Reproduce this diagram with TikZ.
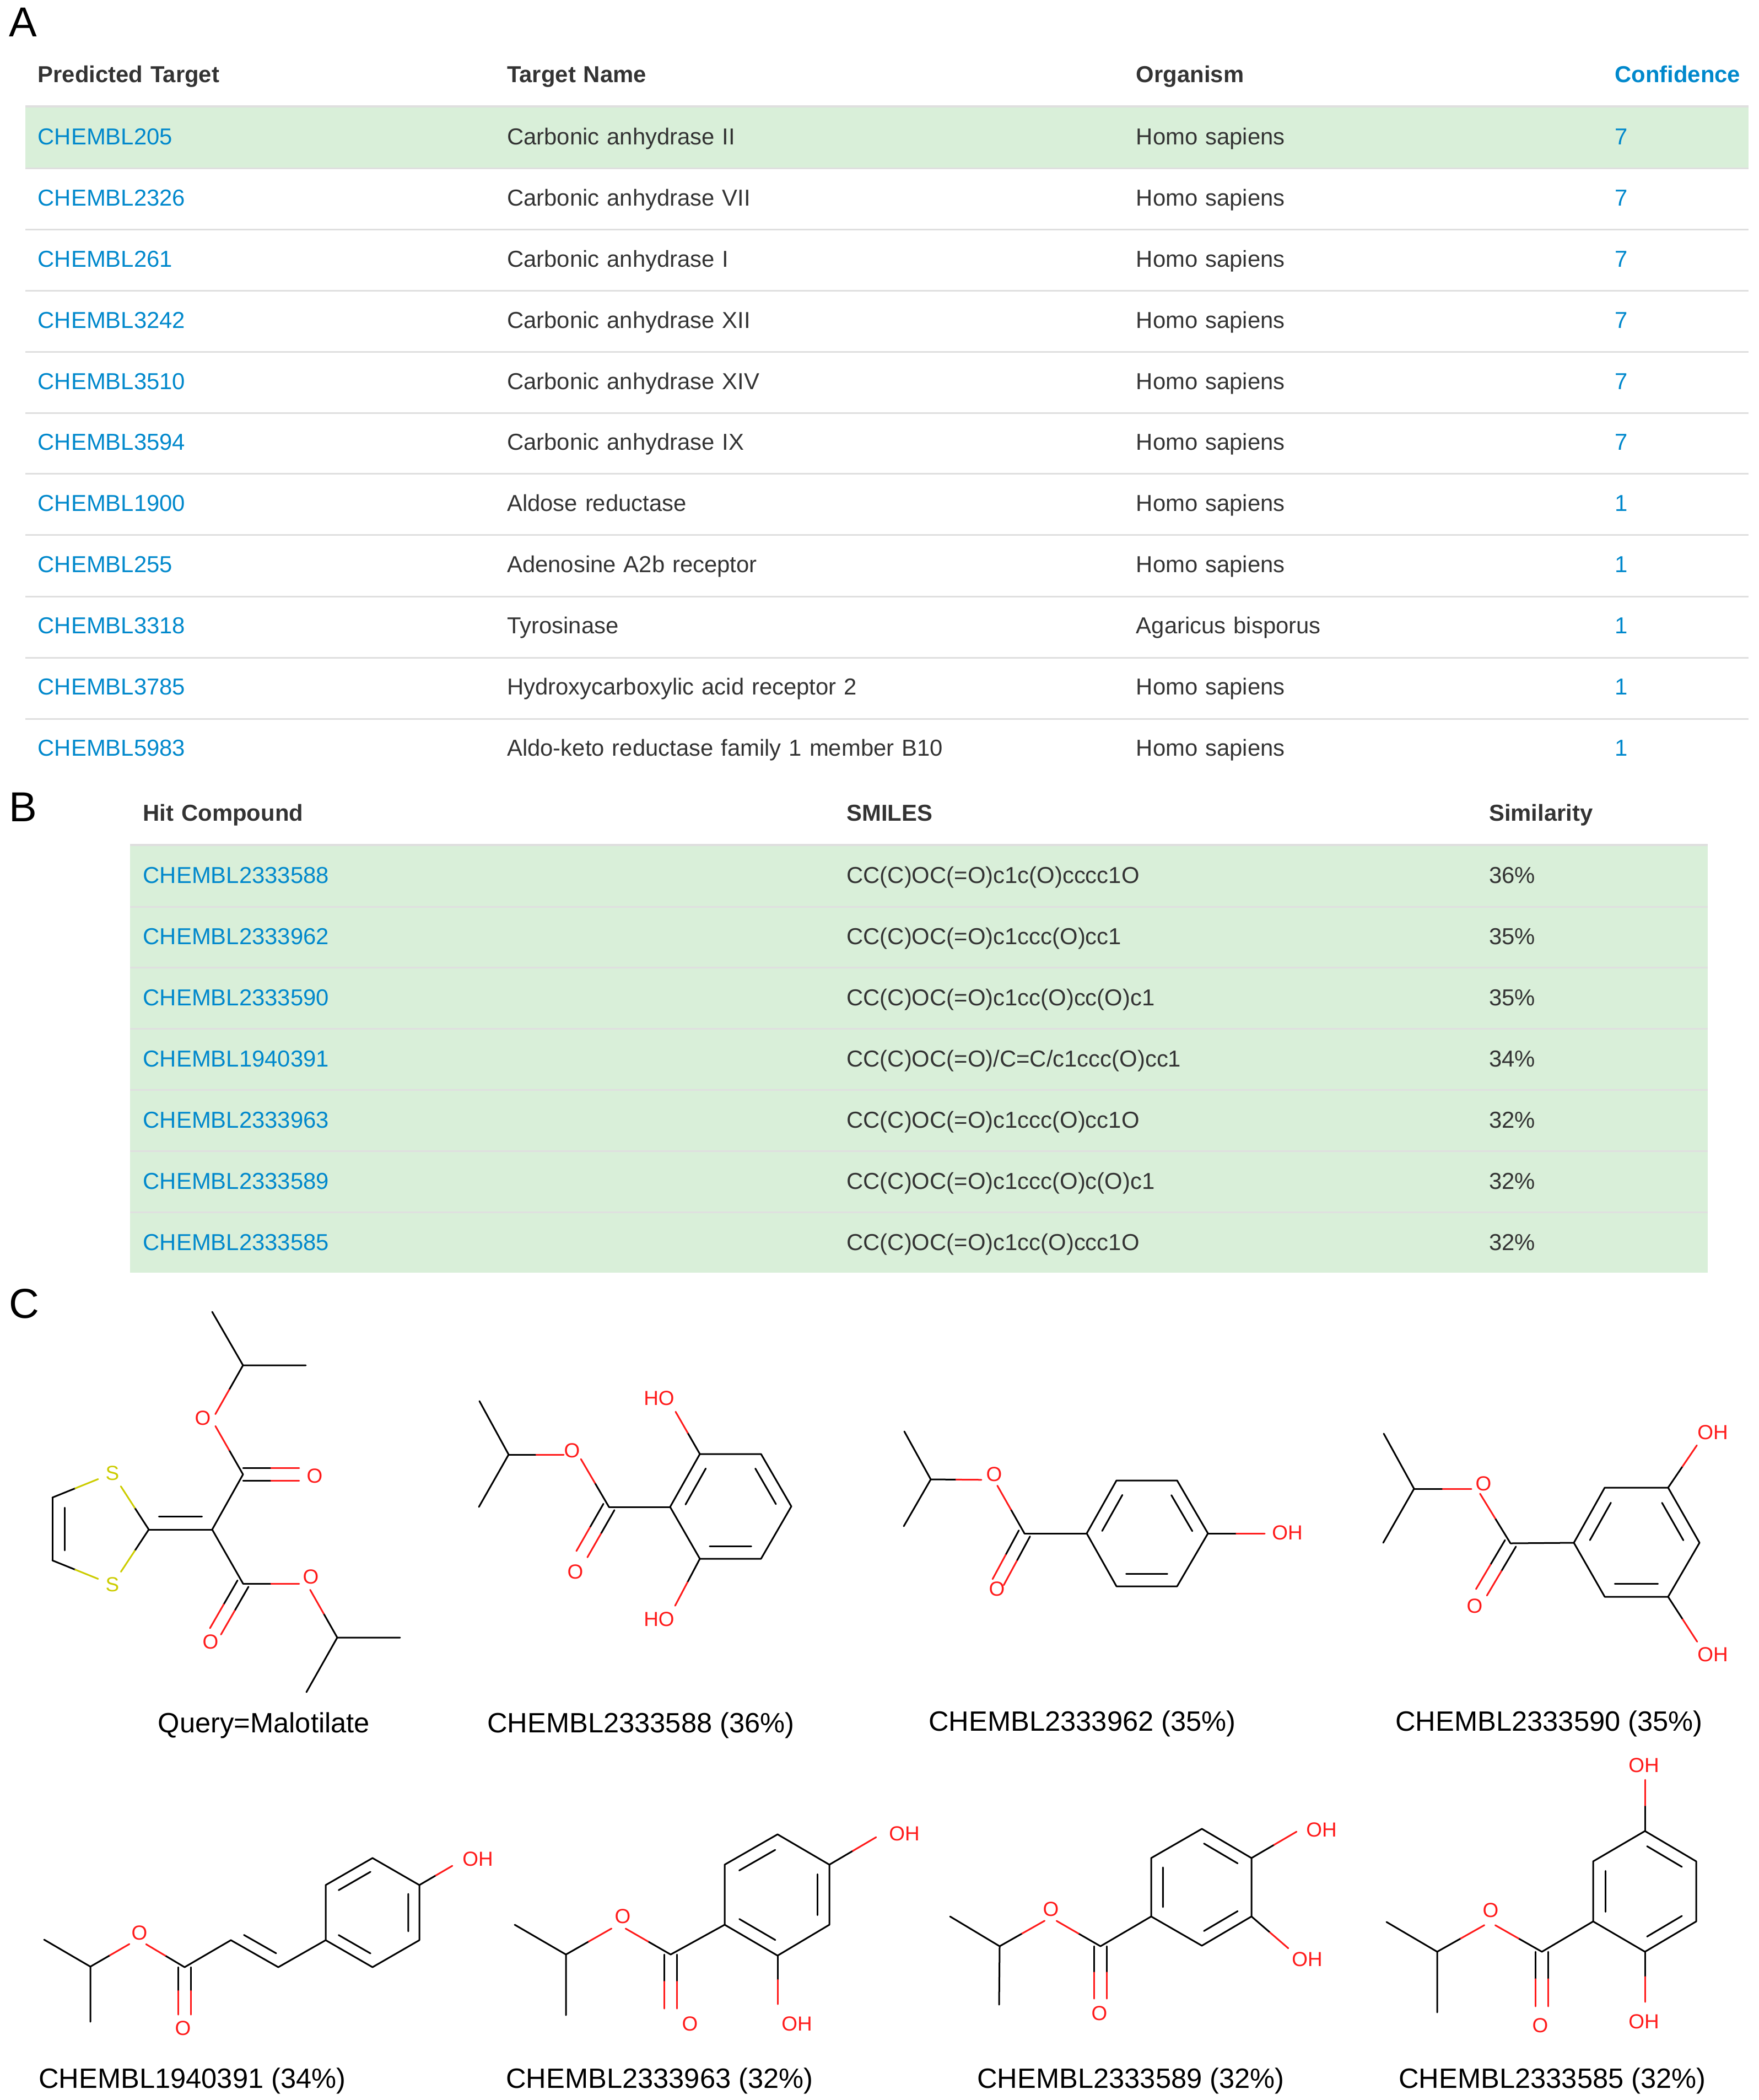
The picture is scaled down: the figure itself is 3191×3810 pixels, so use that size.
\documentclass[tikz,border=0pt]{standalone}
\usepackage{fontspec}
\setmainfont{Liberation Sans}
\usetikzlibrary{matrix,calc}

\definecolor{linkblue}{HTML}{0088CC}
\definecolor{ink}{HTML}{333333}
\definecolor{rowgreen}{HTML}{D9EFD9}
\definecolor{rulegray}{HTML}{DFDFDF}
\definecolor{atomred}{HTML}{FF1A1A}
\definecolor{atomyellow}{HTML}{CCCC00}

\newcommand{\tablefont}{\fontsize{11.9pt}{14pt}\selectfont}
\newcommand{\atomfont}{\fontsize{10.5pt}{12pt}\selectfont}
\newcommand{\captionfont}{\fontsize{14.4pt}{17pt}\selectfont}

\tikzset{
  tablegrid/.style={matrix of nodes, anchor=north west, inner sep=0pt, row sep=0pt, column sep=0pt,
    nodes={inner sep=0pt, minimum height=1.109cm, text height=.31cm, text depth=0pt, align=left,
      text=ink, font=\tablefont},
    row 1/.style={nodes={font=\tablefont\bfseries}}},
  headrule/.style={draw=rulegray, line width=.045cm},
  rowrule/.style={draw=rulegray, line width=.03cm},
  bondline/.style={draw=black, line width=.03cm, line cap=round, line join=round},
  atom/.style={text=atomred, font=\atomfont, inner sep=0pt},
  panel/.style={anchor=west, font=\fontsize{21.6pt}{24pt}\selectfont, inner sep=0pt},
  caption/.style={anchor=base, font=\captionfont, inner sep=0pt}
}

% bond to a hetero atom, half black and half in the atom's colour
\newcommand{\hetbond}[3][atomred]{%
  \coordinate (tip) at ($(#3)!.28cm!(#2)$);
  \coordinate (mid) at ($(#2)!.5!(tip)$);
  \draw[bondline] (#2) -- (mid);
  \draw[bondline,draw=#1] (mid) -- (tip);
}
% carbonyl double bond
\newcommand{\hetdouble}[2]{%
  \coordinate (tip) at ($(#2)!.28cm!(#1)$);
  \coordinate (mid) at ($(#1)!.5!(tip)$);
  \draw[bondline] ($(#1)!.115cm!90:(tip)$) -- ($(mid)!.115cm!90:(tip)$);
  \draw[bondline,draw=atomred] ($(mid)!.115cm!90:(tip)$) -- ($(tip)!.115cm!-90:(#1)$);
  \draw[bondline] ($(#1)!.115cm!-90:(tip)$) -- ($(mid)!.115cm!-90:(tip)$);
  \draw[bondline,draw=atomred] ($(mid)!.115cm!-90:(tip)$) -- ($(tip)!.115cm!90:(#1)$);
}
% inner stroke of a double bond, on the left of the way from #1 to #2
\newcommand{\ringinner}[2]{%
  \draw[bondline] ($(#1)!.16!(#2)!.24!90:(#2)$) -- ($(#2)!.16!(#1)!.24!-90:(#1)$);
}

\begin{document}
\begin{tikzpicture}[x=.01cm, y=-.01cm]
  \useasboundingbox (0,0) rectangle (3191,3810);

  % panel A
  \node[panel] (labA) at (16,40) {A};
  \fill[rowgreen] (46,195) rectangle (3173,305);
  \draw[headrule] (46,193) -- (3173,193);
  \foreach \y in {306,417,528,639,750,860,971,1082,1193,1304}
    \draw[rowrule] (46,\y) -- (3173,\y);
  \matrix (targets) [tablegrid, at={(68,77.5)},
    column 1/.style={nodes={text width=8.51cm, text=linkblue}},
    column 2/.style={nodes={text width=11.41cm}},
    column 3/.style={nodes={text width=8.68cm}},
    column 4/.style={nodes={text width=2.4cm, text=linkblue}},
    row 1 column 1/.style={nodes={text=ink}}]
  {
Predicted Target & Target Name & Organism & Confidence \\[.02cm]
CHEMBL205 & Carbonic anhydrase II & Homo sapiens & 7 \\
CHEMBL2326 & Carbonic anhydrase VII & Homo sapiens & 7 \\
CHEMBL261 & Carbonic anhydrase I & Homo sapiens & 7 \\
CHEMBL3242 & Carbonic anhydrase XII & Homo sapiens & 7 \\
CHEMBL3510 & Carbonic anhydrase XIV & Homo sapiens & 7 \\
CHEMBL3594 & Carbonic anhydrase IX & Homo sapiens & 7 \\
CHEMBL1900 & Aldose reductase & Homo sapiens & 1 \\
CHEMBL255 & Adenosine A2b receptor & Homo sapiens & 1 \\
CHEMBL3318 & Tyrosinase & Agaricus bisporus & 1 \\
CHEMBL3785 & Hydroxycarboxylic acid receptor 2 & Homo sapiens & 1 \\
CHEMBL5983 & Aldo-keto reductase family 1 member B10 & Homo sapiens & 1 \\
};

  % panel B
  \node[panel] (labB) at (16,1464) {B};
  \fill[rowgreen] (236,1535) rectangle (3099,2309);
  \draw[headrule] (236,1533) -- (3099,1533);
  \foreach \y in {1645,1755,1866,1977,2088,2199}
    \draw[rowrule] (236,\y) -- (3099,\y);
  \matrix (hits) [tablegrid, at={(259,1417.6)},
    column 1/.style={nodes={text width=12.76cm, text=linkblue}},
    column 2/.style={nodes={text width=11.65cm}},
    column 3/.style={nodes={text width=2.4cm}},
    row 1 column 1/.style={nodes={text=ink}}]
  {
Hit Compound & SMILES & Similarity \\[.02cm]
CHEMBL2333588 & CC(C)OC(=O)c1c(O)cccc1O & 36\% \\
CHEMBL2333962 & CC(C)OC(=O)c1ccc(O)cc1 & 35\% \\
CHEMBL2333590 & CC(C)OC(=O)c1cc(O)cc(O)c1 & 35\% \\
CHEMBL1940391 & CC(C)OC(=O)/C=C/c1ccc(O)cc1 & 34\% \\
CHEMBL2333963 & CC(C)OC(=O)c1ccc(O)cc1O & 32\% \\
CHEMBL2333589 & CC(C)OC(=O)c1ccc(O)c(O)c1 & 32\% \\
CHEMBL2333585 & CC(C)OC(=O)c1cc(O)ccc1O & 32\% \\
};

  % panel C
  \node[panel] (labC) at (16,2365) {C};

  % query
  \coordinate (q1) at (385,2380); \coordinate (q2) at (441,2477); \coordinate (q3) at (555,2477);
  \coordinate (q4) at (441,2675); \coordinate (q5) at (385,2775); \coordinate (q6) at (270,2775);
  \coordinate (q7) at (95,2717); \coordinate (q8) at (95,2831); \coordinate (q9) at (441,2873);
  \coordinate (q10) at (612,2971); \coordinate (q11) at (726,2971); \coordinate (q12) at (556,3070);
  \coordinate (qA1) at (377,2590); \coordinate (qA2) at (377,2563); \coordinate (qA3) at (571,2675);
  \coordinate (qA4) at (377,2984); \coordinate (qA5) at (571,2873); \coordinate (qA6) at (549,2860);
  \node[atom] (qO1) at (368,2573) {O};
  \node[atom] (qO2) at (571,2678) {O};
  \node[atom] (qO3) at (382,2979) {O};
  \node[atom] (qO4) at (564,2861) {O};
  \node[atom, text=atomyellow] (qS1) at (204,2673) {S};
  \node[atom, text=atomyellow] (qS2) at (204,2875) {S};
  \draw[bondline] (q1) -- (q2) -- (q3);
  \hetbond{q2}{qA1} \hetbond{q4}{qA2}
  \hetdouble{q4}{qA3}
  \draw[bondline] (q4) -- (q5) -- (q9);
  \draw[bondline] (q5) -- (q6);
  \ringinner{q6}{q5}
  \hetbond[atomyellow]{q6}{qS1} \hetbond[atomyellow]{q6}{qS2}
  \hetbond[atomyellow]{q7}{qS1} \hetbond[atomyellow]{q8}{qS2}
  \draw[bondline] (q7) -- (q8);
  \ringinner{q7}{q8}
  \hetdouble{q9}{qA4}
  \hetbond{q9}{qA5} \hetbond{q10}{qA6}
  \draw[bondline] (q12) -- (q10) -- (q11);
  \node[caption] (capq) at (479,3143) {Query=Malotilate};

  % CHEMBL2333588
  \coordinate (a1) at (870,2542); \coordinate (a2) at (923,2639); \coordinate (a3) at (869,2734);
  \coordinate (a4) at (1105,2734);
  \coordinate (ar1) at (1216,2734); \coordinate (ar2) at (1270,2638); \coordinate (ar3) at (1381,2638);
  \coordinate (ar4) at (1436,2733); \coordinate (ar5) at (1381,2828); \coordinate (ar6) at (1270,2828);
  \coordinate (aOt) at (1212,2537); \coordinate (aOb) at (1212,2938);
  \coordinate (aA1) at (1051,2639); \coordinate (aA2) at (1040,2623); \coordinate (aA3) at (1042,2844);
  \node[atom] (aO1) at (1038,2632) {O};
  \node[atom] (aO2) at (1044,2852) {O};
  \node[atom] (aH1) at (1196,2537) {HO};
  \node[atom] (aH2) at (1196,2938) {HO};
  \draw[bondline] (a1) -- (a2) -- (a3);
  \hetbond{a2}{aA1} \hetbond{a4}{aA2}
  \hetdouble{a4}{aA3}
  \draw[bondline] (a4) -- (ar1);
  \draw[bondline] (ar1) -- (ar2) -- (ar3) -- (ar4) -- (ar5) -- (ar6) -- cycle;
  \ringinner{ar2}{ar1} \ringinner{ar6}{ar5} \ringinner{ar4}{ar3}
  \hetbond{ar2}{aOt} \hetbond{ar6}{aOb}
  \node[caption] (capa) at (1163,3143) {CHEMBL2333588 (36\%)};

  % CHEMBL2333962
  \coordinate (b1) at (1641,2597); \coordinate (b2) at (1689,2684); \coordinate (b3) at (1640,2769);
  \coordinate (b4) at (1859,2782);
  \coordinate (br1) at (1972,2782); \coordinate (br2) at (2026,2686); \coordinate (br3) at (2136,2686);
  \coordinate (br4) at (2192,2782); \coordinate (br5) at (2136,2878); \coordinate (br6) at (2026,2878);
  \coordinate (bO3) at (2323,2782);
  \coordinate (bA1) at (1809,2685); \coordinate (bA2) at (1796,2671); \coordinate (bA3) at (1798,2895);
  \node[atom] (bO1) at (1804,2675) {O};
  \node[atom] (bO2) at (1809,2883) {O};
  \node[atom] (bH1) at (2336,2781) {OH};
  \draw[bondline] (b1) -- (b2) -- (b3);
  \hetbond{b2}{bA1} \hetbond{b4}{bA2}
  \hetdouble{b4}{bA3}
  \draw[bondline] (b4) -- (br1);
  \draw[bondline] (br1) -- (br2) -- (br3) -- (br4) -- (br5) -- (br6) -- cycle;
  \ringinner{br2}{br1} \ringinner{br6}{br5} \ringinner{br4}{br3}
  \hetbond{br4}{bO3}
  \node[caption] (capb) at (1964,3140) {CHEMBL2333962 (35\%)};

  % CHEMBL2333590
  \coordinate (c1) at (2511,2601); \coordinate (c2) at (2566,2701); \coordinate (c3) at (2510,2799);
  \coordinate (c4) at (2741,2800);
  \coordinate (cr1) at (2856,2799); \coordinate (cr2) at (2912,2699); \coordinate (cr3) at (3027,2699);
  \coordinate (cr4) at (3084,2799); \coordinate (cr5) at (3027,2897); \coordinate (cr6) at (2912,2897);
  \coordinate (cOt) at (3095,2599); \coordinate (cOb) at (3095,3002);
  \coordinate (cA1) at (2698,2701); \coordinate (cA2) at (2671,2686); \coordinate (cA3) at (2674,2913);
  \node[atom] (cO1) at (2692,2692) {O};
  \node[atom] (cO2) at (2676,2914) {O};
  \node[atom] (cH1) at (3108,2599) {OH};
  \node[atom] (cH2) at (3108,3002) {OH};
  \draw[bondline] (c1) -- (c2) -- (c3);
  \hetbond{c2}{cA1} \hetbond{c4}{cA2}
  \hetdouble{c4}{cA3}
  \draw[bondline] (c4) -- (cr1);
  \draw[bondline] (cr1) -- (cr2) -- (cr3) -- (cr4) -- (cr5) -- (cr6) -- cycle;
  \ringinner{cr2}{cr1} \ringinner{cr6}{cr5} \ringinner{cr4}{cr3}
  \hetbond{cr3}{cOt} \hetbond{cr5}{cOb}
  \node[caption] (capc) at (2811,3140) {CHEMBL2333590 (35\%)};

  % CHEMBL1940391
  \coordinate (d1) at (80,3519); \coordinate (d2) at (164,3568); \coordinate (d3) at (164,3668);
  \coordinate (d4) at (335,3569); \coordinate (d5) at (419,3520); \coordinate (d6) at (505,3569);
  \coordinate (dr1) at (591,3520); \coordinate (dr2) at (591,3420); \coordinate (dr3) at (676,3371);
  \coordinate (dr4) at (761,3420); \coordinate (dr5) at (761,3520); \coordinate (dr6) at (676,3569);
  \coordinate (dO3) at (845,3371);
  \coordinate (dA1) at (259,3513); \coordinate (dA2) at (241,3513); \coordinate (dA3) at (335,3683);
  \node[atom] (dO1) at (253,3507) {O};
  \node[atom] (dO2) at (332,3680) {O};
  \node[atom] (dH1) at (867,3373) {OH};
  \draw[bondline] (d1) -- (d2) -- (d3);
  \hetbond{d2}{dA1} \hetbond{d4}{dA2}
  \hetdouble{d4}{dA3}
  \draw[bondline] (d4) -- (d5) -- (d6) -- (dr1);
  \ringinner{d5}{d6}
  \draw[bondline] (dr1) -- (dr2) -- (dr3) -- (dr4) -- (dr5) -- (dr6) -- cycle;
  \ringinner{dr3}{dr2} \ringinner{dr1}{dr6} \ringinner{dr5}{dr4}
  \hetbond{dr4}{dO3}
  \node[caption] (capd) at (349,3788) {CHEMBL1940391 (34\%)};

  % CHEMBL2333963
  \coordinate (e1) at (934,3492); \coordinate (e2) at (1027,3546); \coordinate (e3) at (1027,3656);
  \coordinate (e4) at (1217,3546);
  \coordinate (er1) at (1315,3492); \coordinate (er2) at (1315,3383); \coordinate (er3) at (1411,3328);
  \coordinate (er4) at (1505,3383); \coordinate (er5) at (1505,3492); \coordinate (er6) at (1411,3548);
  \coordinate (eOa) at (1217,3672); \coordinate (eOb) at (1411,3664); \coordinate (eOc) at (1614,3319);
  \coordinate (eA1) at (1134,3485); \coordinate (eA2) at (1111,3485);
  \node[atom] (eO1) at (1130,3477) {O};
  \node[atom] (eO2) at (1252,3672) {O};
  \node[atom] (eH1) at (1446,3672) {OH};
  \node[atom] (eH2) at (1641,3327) {OH};
  \draw[bondline] (e1) -- (e2) -- (e3);
  \hetbond{e2}{eA1} \hetbond{e4}{eA2}
  \hetdouble{e4}{eOa}
  \draw[bondline] (e4) -- (er1);
  \draw[bondline] (er1) -- (er2) -- (er3) -- (er4) -- (er5) -- (er6) -- cycle;
  \ringinner{er3}{er2} \ringinner{er1}{er6} \ringinner{er5}{er4}
  \hetbond{er6}{eOb} \hetbond{er4}{eOc}
  \node[caption] (cape) at (1197,3788) {CHEMBL2333963 (32\%)};

  % CHEMBL2333589
  \coordinate (f1) at (1724,3477); \coordinate (f2) at (1814,3531); \coordinate (f3) at (1813,3637);
  \coordinate (f4) at (1997,3531);
  \coordinate (fr1) at (2089,3477); \coordinate (fr2) at (2089,3371); \coordinate (fr3) at (2181,3318);
  \coordinate (fr4) at (2271,3371); \coordinate (fr5) at (2271,3477); \coordinate (fr6) at (2181,3530);
  \coordinate (fOt) at (2377,3309); \coordinate (fOb) at (2359,3553);
  \coordinate (fA1) at (1920,3471); \coordinate (fA2) at (1893,3471); \coordinate (fA3) at (1997,3654);
  \node[atom] (fO1) at (1907,3464) {O};
  \node[atom] (fO2) at (1995,3653) {O};
  \node[atom] (fH1) at (2398,3320) {OH};
  \node[atom] (fH2) at (2372,3555) {OH};
  \draw[bondline] (f1) -- (f2) -- (f3);
  \hetbond{f2}{fA1} \hetbond{f4}{fA2}
  \hetdouble{f4}{fA3}
  \draw[bondline] (f4) -- (fr1);
  \draw[bondline] (fr1) -- (fr2) -- (fr3) -- (fr4) -- (fr5) -- (fr6) -- cycle;
  \ringinner{fr2}{fr1} \ringinner{fr6}{fr5} \ringinner{fr4}{fr3}
  \hetbond{fr4}{fOt} \hetbond{fr5}{fOb}
  \node[caption] (capf) at (2052,3788) {CHEMBL2333589 (32\%)};

  % CHEMBL2333585
  \coordinate (h1) at (2516,3487); \coordinate (h2) at (2608,3541); \coordinate (h3) at (2608,3651);
  \coordinate (h4) at (2798,3541);
  \coordinate (hr1) at (2891,3486); \coordinate (hr2) at (2891,3377); \coordinate (hr3) at (2985,3322);
  \coordinate (hr4) at (3078,3377); \coordinate (hr5) at (3078,3486); \coordinate (hr6) at (2985,3541);
  \coordinate (hOt) at (2985,3201); \coordinate (hOb) at (2985,3660);
  \coordinate (hA1) at (2718,3479); \coordinate (hA2) at (2689,3479); \coordinate (hA3) at (2798,3668);
  \node[atom] (hO1) at (2705,3466) {O};
  \node[atom] (hO2) at (2795,3675) {O};
  \node[atom] (hH1) at (2983,3203) {OH};
  \node[atom] (hH2) at (2983,3668) {OH};
  \draw[bondline] (h1) -- (h2) -- (h3);
  \hetbond{h2}{hA1} \hetbond{h4}{hA2}
  \hetdouble{h4}{hA3}
  \draw[bondline] (h4) -- (hr1);
  \draw[bondline] (hr1) -- (hr2) -- (hr3) -- (hr4) -- (hr5) -- (hr6) -- cycle;
  \ringinner{hr2}{hr1} \ringinner{hr6}{hr5} \ringinner{hr4}{hr3}
  \hetbond{hr3}{hOt} \hetbond{hr6}{hOb}
  \node[caption] (caph) at (2817,3788) {CHEMBL2333585 (32\%)};
\end{tikzpicture}
\end{document}
